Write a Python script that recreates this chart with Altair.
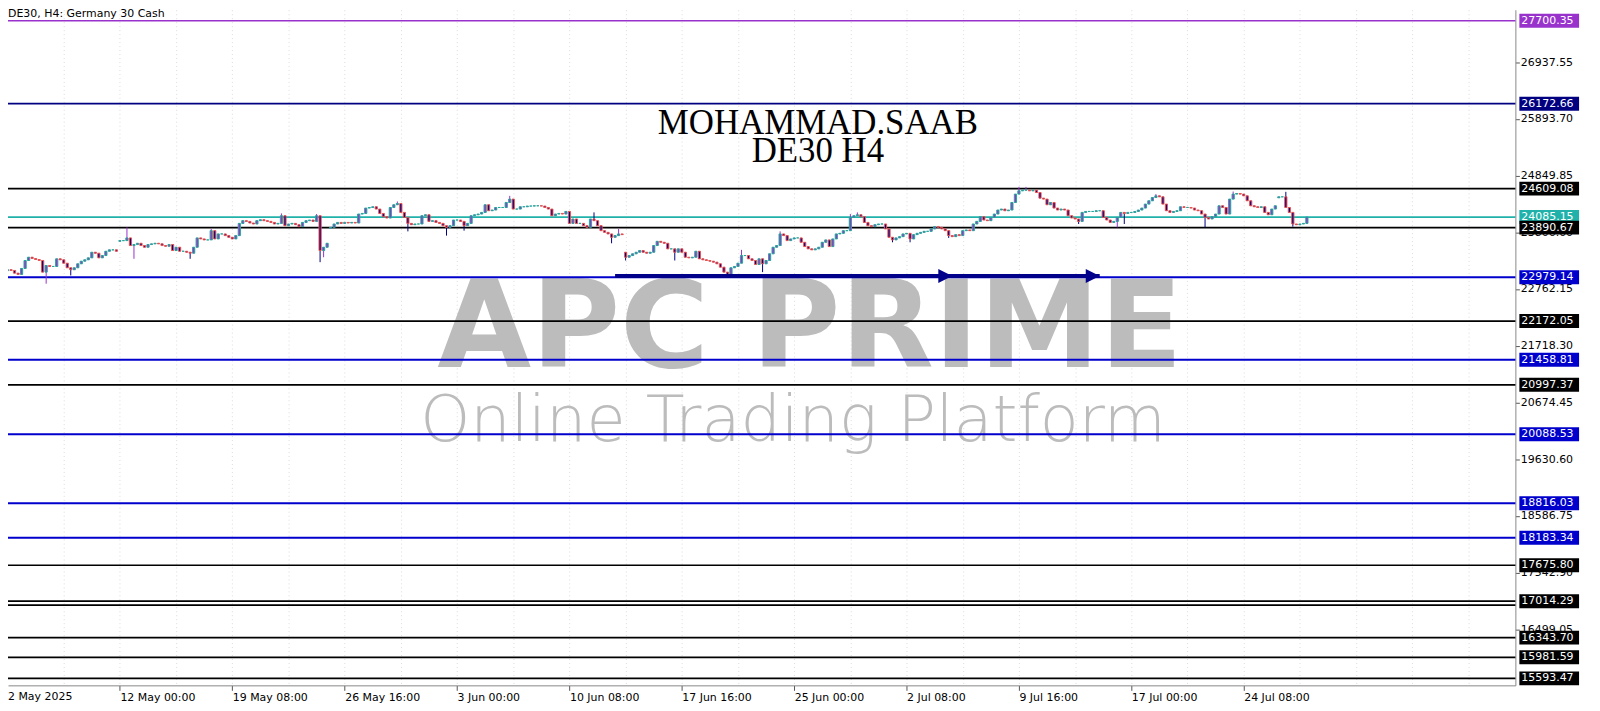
import altair as alt
import pandas as pd

# ---------------- data ----------------
closes = [
    23116, 23103, 23053, 23029, 23139, 23286, 23346, 23322, 23304, 23286,
    23072, 23194, 23176, 23176, 23317, 23299, 23236, 23152, 23116, 23152,
    23225, 23273, 23299, 23335, 23438, 23420, 23335, 23377, 23456, 23482,
    23482, 23456, 23652, 23652, 23702, 23561, 23579, 23603, 23561, 23530,
    23579, 23592, 23603, 23592, 23561, 23548, 23579, 23469, 23530, 23456,
    23456, 23438, 23420, 23530, 23702, 23683, 23665, 23665, 23835, 23683,
    23775, 23775, 23744, 23713, 23683, 23744, 23969, 24019, 24006, 23976,
    23958, 24019, 24037, 24019, 24006, 23987, 23958, 23969, 24110, 23927,
    23958, 23969, 23945, 23909, 23987, 24019, 24031, 24006, 24110, 23469,
    23530, 23603, 23896, 23958, 23987, 23969, 23987, 23976, 23987, 23976,
    24141, 24152, 24251, 24262, 24275, 24233, 24152, 24092, 24068, 24262,
    24312, 24335, 24171, 24079, 23969, 23945, 23958, 23958, 24110, 24128,
    24006, 24019, 23987, 23969, 23927, 23896, 23927, 24031, 24031, 24006,
    23927, 23969, 24110, 24128, 24141, 24171, 24312, 24202, 24215, 24262,
    24262, 24262, 24354, 24416, 24233, 24233, 24275, 24275, 24288, 24288,
    24293, 24293, 24288, 24262, 24233, 24110, 24141, 24152, 24141, 24189,
    23969, 24050, 23969, 23969, 23927, 23896, 24050, 24019, 23927, 23835,
    23804, 23775, 23713, 23744, 23775, 23762, 23346, 23377, 23409, 23438,
    23469, 23438, 23420, 23438, 23561, 23639, 23621, 23603, 23500, 23500,
    23438, 23500, 23438, 23346, 23335, 23346, 23456, 23317, 23299, 23286,
    23273, 23255, 23225, 23163, 23072, 23029, 23152, 23176, 23236, 23377,
    23377, 23317, 23286, 23213, 23317, 23225, 23286, 23409, 23530, 23561,
    23775, 23744, 23652, 23683, 23702, 23702, 23621, 23542, 23500, 23482,
    23500, 23530, 23621, 23665, 23542, 23683, 23775, 23786, 23835, 23835,
    24079, 24110, 24128, 24092, 23987, 23927, 23909, 23945, 23958, 23958,
    23867, 23713, 23665, 23702, 23725, 23775, 23786, 23683, 23762, 23786,
    23804, 23823, 23823, 23867, 23909, 23896, 23867, 23835, 23744, 23725,
    23762, 23744, 23835, 23848, 23835, 23958, 24006, 24092, 24031, 24019,
    24079, 24141, 24215, 24233, 24202, 24215, 24354, 24508, 24568, 24581,
    24581, 24568, 24581, 24537, 24434, 24416, 24312, 24354, 24251, 24215,
    24233, 24215, 24110, 24068, 24050, 24006, 24171, 24189, 24189, 24189,
    24202, 24202, 24079, 24031, 23987, 24006, 24079, 24171, 24152, 24171,
    24171, 24189, 24215, 24251, 24324, 24385, 24445, 24476, 24458, 24324,
    24202, 24171, 24189, 24202, 24275, 24262, 24262, 24251, 24215, 24202,
    24141, 24079, 24050, 24092, 24141, 24293, 24262, 24141, 24416, 24508,
    24519, 24508, 24476, 24385, 24293, 24275, 24262, 24275, 24171, 24128,
    24233, 24293, 24458, 24458, 24262, 24171, 23958, 23945, 23958, 23969,
    24085,
]
first_open = 23100
gap_opens = {32: 23640, 92: 23880, 176: 23438, 362: 24440}
wick_highs = {34: 23896, 58: 23866, 78: 24152, 88: 24141, 111: 24372, 143: 24476,
              167: 24171, 174: 23866, 209: 23482, 220: 23822, 240: 24141, 242: 24171,
              288: 24641, 290: 24641, 327: 24508, 349: 24555, 364: 24550}
wick_lows = {11: 22859, 18: 23011, 36: 23317, 52: 23317, 89: 23255, 90: 23346,
             114: 23822, 125: 23744, 130: 23835, 172: 23603, 176: 23286, 190: 23286,
             205: 23011, 215: 23072, 252: 23621, 257: 23621, 268: 23701, 305: 23958,
             316: 23896, 318: 23958, 341: 23896, 366: 23909}

date_labels = ["2 May 2025", "12 May 00:00", "19 May 08:00", "26 May 16:00",
               "3 Jun 00:00", "10 Jun 08:00", "17 Jun 16:00", "25 Jun 00:00",
               "2 Jul 08:00", "9 Jul 16:00", "17 Jul 00:00", "24 Jul 08:00"]
bars_per_label = 32
bars_per_grid = 16

price_ticks = [26937.55, 25893.70, 24849.85, 23806.00, 22762.15, 21718.30,
               20674.45, 19630.60, 18586.75, 17542.90, 16499.05]

level_prices = [27700.35, 26172.66, 24609.08, 24085.15, 23890.67, 22979.14,
                22172.05, 21458.81, 20997.37, 20088.53, 18816.03, 18183.34,
                17675.80, 17014.29, 16343.70, 15981.59, 15593.47]
level_kinds = ["purple", "navy", "black", "bid", "black", "blue",
               "black", "blue", "black", "blue", "blue", "blue",
               "black", "black", "black", "black", "black"]
unlabelled_levels = [16940.0]

arrow_bars = [173, 269, 311]
arrow_price = 23000

header = "DE30, H4:  Germany 30 Cash"
author = "MOHAMMAD.SAAB"
subtitle = "DE30 H4"
brand = "APC PRIME"
tagline = "Online Trading Platform"

# ---------------- tables ----------------
opens, highs, lows = [], [], []
for i, c in enumerate(closes):
    o = gap_opens.get(i, closes[i - 1] if i else first_open)
    opens.append(o)
    highs.append(max(o, c, wick_highs.get(i, c)))
    lows.append(min(o, c, wick_lows.get(i, c)))
candles = pd.DataFrame({"i": range(len(closes)), "open": opens, "close": closes,
                        "high": highs, "low": lows})
candles["dir"] = ["up" if c >= o else "down" for o, c in zip(opens, closes)]

levels = pd.DataFrame({"price": level_prices, "kind": level_kinds,
                       "label": [f"{p:.2f}" for p in level_prices]})
extra = pd.DataFrame({"price": unlabelled_levels, "kind": ["black"] * len(unlabelled_levels)})
arrow_line = pd.DataFrame({"start": [arrow_bars[0]], "end": [arrow_bars[-1]], "p": [arrow_price]})
arrow_heads = pd.DataFrame({"bar": arrow_bars[1:], "p": [arrow_price] * (len(arrow_bars) - 1)})

# ---------------- scales / axes ----------------
kind_dom = ["purple", "navy", "black", "bid", "blue"]
kind_col = ["#9932CC", "#000080", "#000000", "#20B2AA", "#0000CD"]
kind_w = [1.5, 2, 2, 1, 2]

xscale = alt.Scale(domain=[1.548, 427.95], nice=False, zero=False)
yscale = alt.Scale(domain=[15464.9, 27901.5], nice=False, zero=False)

arr = "[" + ",".join(f"'{s}'" for s in date_labels) + "]"
last_label = bars_per_label * (len(date_labels) - 1)
label_test = f"datum.value % {bars_per_label} == 0 && datum.value <= {last_label}"
xaxis = alt.Axis(
    values=list(range(0, 429, bars_per_grid)),
    labelExpr=f"({label_test}) ? {arr}[datum.value / {bars_per_label}] : ''",
    labelAlign="left", labelPadding=1, tickSize=5, tickColor="#555",
    tickOpacity={"condition": {"test": label_test, "value": 1}, "value": 0},
    domainColor="#888", grid=True, gridColor="#dcdcdc", gridDash=[1, 3],
    labelFont="DejaVu Sans", labelFontSize=11, labelColor="#000",
    labelOverlap=False, labelFlush=False, labelBound=False, title=None,
)
yaxis = alt.Axis(
    orient="right", values=price_ticks, format=".2f", labelFont="DejaVu Sans",
    labelFontSize=11, labelColor="#000", tickSize=4, tickColor="#555",
    domainColor="#888", labelPadding=1, grid=False, labelOverlap=False,
    labelFlush=False, labelBound=False, title=None,
)


def X(f):
    return alt.X(f"{f}:Q", scale=xscale, axis=xaxis)


def Y(f):
    return alt.Y(f"{f}:Q", scale=yscale, axis=yaxis)


dir_color = alt.Color("dir:N", scale=alt.Scale(domain=["up", "down"], range=["#26a69a", "#ef5350"]), legend=None)
kind_color = alt.Color("kind:N", scale=alt.Scale(domain=kind_dom, range=kind_col), legend=None)
kind_width = alt.StrokeWidth("kind:N", scale=alt.Scale(domain=kind_dom, range=kind_w), legend=None)

one = lambda col, val: pd.DataFrame({col: [val]})

# ---------------- layers ----------------
wm1 = alt.Chart(one("t", brand)).mark_text(
    font="DejaVu Sans", fontSize=122, fontWeight="bold", color="#bcbcbc",
    align="center", baseline="alphabetic").encode(x=alt.value(806), y=alt.value(359), text="t:N")
wm2 = alt.Chart(one("t", tagline)).mark_text(
    font="DejaVu Sans", fontSize=64, fontWeight=200, color="#bcbcbc",
    align="center", baseline="alphabetic").encode(x=alt.value(789), y=alt.value(433), text="t:N")

lvl = alt.Chart(levels).mark_rule().encode(y=Y("price"), color=kind_color, strokeWidth=kind_width)
lvl2 = alt.Chart(extra).mark_rule().encode(y=Y("price"), color=kind_color, strokeWidth=kind_width)

wicks = alt.Chart(candles).mark_rule(strokeWidth=1, clip=True).encode(
    x=X("i"), y=Y("low"), y2="high:Q", color=dir_color)
bodies = alt.Chart(candles).mark_bar(size=2.2, strokeWidth=1, clip=True).encode(
    x=X("i"), y=Y("open"), y2="close:Q", color=dir_color, stroke=dir_color)

arr_line = alt.Chart(arrow_line).mark_rule(strokeWidth=4, color="#00008B").encode(
    x=X("start"), x2="end:Q", y=Y("p"))
arr_heads = alt.Chart(arrow_heads).mark_point(
    shape="M-2,-1L0,0L-2,1Z", filled=True, size=196, opacity=1, color="#00008B", strokeWidth=0).encode(
    x=X("bar"), y=Y("p"))

boxes = alt.Chart(levels).mark_point(
    shape="M-1,-0.2333L1,-0.2333L1,0.2333L-1,0.2333Z", filled=True, size=3600,
    opacity=1, strokeWidth=0).encode(x=alt.value(1549), y=Y("price"), color=kind_color)
box_text = alt.Chart(levels).mark_text(
    align="left", baseline="middle", font="DejaVu Sans", fontSize=11, color="white").encode(
    x=alt.value(1521), y=Y("price"), text="label:N")

first_date = alt.Chart(one("t", date_labels[0])).mark_text(
    align="left", baseline="top", font="DejaVu Sans", fontSize=11, color="#000").encode(
    x=alt.value(0), y=alt.value(685), text="t:N")

t_head = alt.Chart(one("t", header)).mark_text(
    align="left", baseline="middle", font="DejaVu Sans", fontSize=11, color="#000").encode(
    x=alt.value(0), y=alt.value(4), text="t:N")
t_auth = alt.Chart(one("t", author)).mark_text(
    align="center", baseline="alphabetic", font="Liberation Serif", fontSize=35, color="#000").encode(
    x=alt.value(814), y=alt.value(125), text="t:N")
t_sub = alt.Chart(one("t", subtitle)).mark_text(
    align="center", baseline="alphabetic", font="Liberation Serif", fontSize=35, color="#000").encode(
    x=alt.value(814), y=alt.value(153), text="t:N")

chart = alt.layer(
    wm1, wm2, lvl, lvl2, wicks, bodies, arr_line, arr_heads, boxes, box_text,
    first_date, t_head, t_auth, t_sub,
).properties(
    width=1515, height=679,
    autosize=alt.AutoSizeParams(type="none"),
    padding={"left": 0, "top": 0, "right": 77, "bottom": 24},
    background="white",
).configure_view(stroke=None)

chart.save("out.html", embed_options={"renderer": "svg", "actions": False})
